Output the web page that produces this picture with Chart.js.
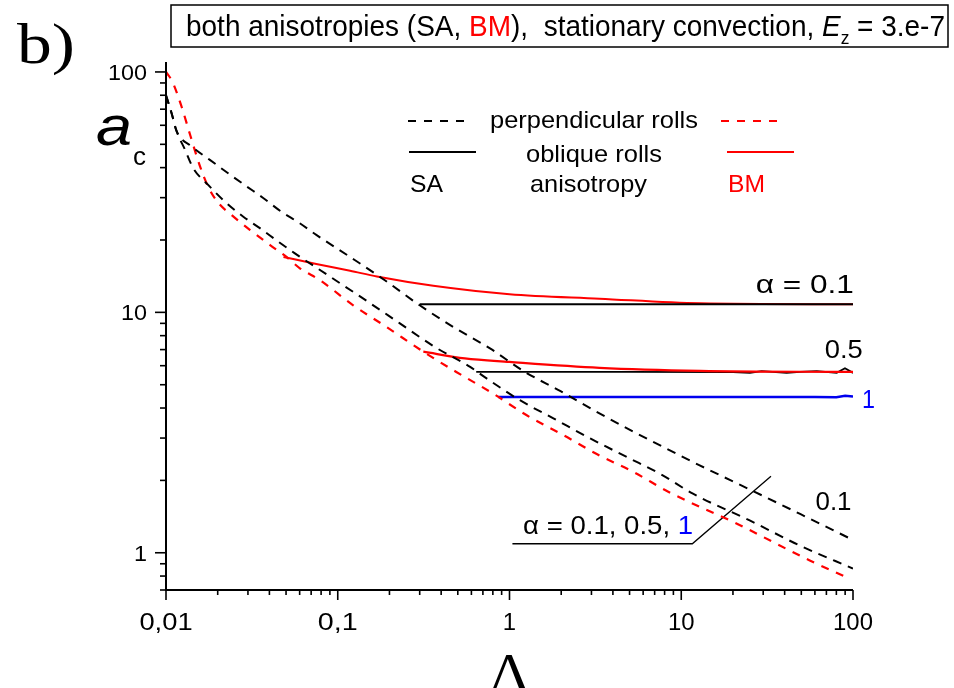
<!DOCTYPE html>
<html>
<head>
<meta charset="utf-8">
<script src="https://cdn.jsdelivr.net/npm/chart.js@4.4.0/dist/chart.umd.min.js"></script>
<style>
  html, body { margin: 0; padding: 0; background: #fff; }
</style>
</head>
<body>
<canvas id="chart" width="954" height="688"></canvas>
<script>
// ---- data (Lambda, a_c) ----
// perpendicular rolls, SA anisotropy, alpha = 0.1 (black dashed, upper)
var lamPerpSA01 = [0.01, 0.0108, 0.0115, 0.0141, 0.018, 0.0236, 0.0295, 0.0368, 0.047, 0.06, 0.075, 0.118, 0.188, 0.30, 0.47, 0.77, 1.23, 1.97, 3.17, 5.09, 8.2, 12.8, 25.6, 49.2, 100];
var acPerpSA01  = [80, 67, 57, 49, 43.1, 37.4, 33.4, 29.9, 26.2, 23.5, 21.0, 17.0, 13.6, 10.7, 8.7, 7.08, 5.65, 4.71, 3.88, 3.23, 2.71, 2.31, 1.82, 1.45, 1.13];
// perpendicular rolls, SA anisotropy, alpha = 0.5 / 1 (black dashed, lower)
var lamPerpSA05 = [0.01, 0.0108, 0.0115, 0.0129, 0.0144, 0.0176, 0.022, 0.0282, 0.0352, 0.045, 0.0563, 0.0899, 0.141, 0.23, 0.366, 0.59, 0.736, 1.15, 1.79, 2.95, 4.83, 7.8, 11.7, 25.2, 49.2, 100];
var acPerpSA05  = [80, 67, 57, 47.5, 39.8, 33.9, 28.9, 25.0, 22.4, 19.7, 17.6, 14.1, 11.4, 9.0, 7.19, 5.93, 5.31, 4.31, 3.63, 2.99, 2.5, 2.1, 1.76, 1.36, 1.07, 0.86];
// perpendicular rolls, BM anisotropy (red dashed)
var lamPerpBM = [0.01, 0.0109, 0.0123, 0.0139, 0.0158, 0.0176, 0.0202, 0.0241, 0.0309, 0.0402, 0.0503, 0.0602, 0.0789, 0.123, 0.192, 0.315, 0.49, 0.80, 1.26, 2.07, 3.2, 5.26, 8.45, 21.1, 56, 90];
var acPerpBM  = [100, 91, 72, 54, 40.4, 33.3, 28.5, 25.4, 22.0, 19.1, 17.0, 15.25, 13.6, 10.7, 8.7, 6.86, 5.65, 4.6, 3.73, 3.08, 2.58, 2.17, 1.79, 1.32, 0.929, 0.796];

// oblique rolls
var lamObSA01 = [0.30, 1, 10, 100];
var acObSA01  = [10.8, 10.8, 10.8, 10.8];
var lamObBM01 = [0.0483, 0.075, 0.118, 0.169, 0.36, 1.0, 3.34, 12.9, 100];
var acObBM01  = [17.0, 15.9, 14.9, 14.1, 12.9, 11.9, 11.4, 10.9, 10.8];
var lamObBM05 = [0.315, 0.55, 1.0, 3.34, 12.9, 100];
var acObBM05  = [6.86, 6.43, 6.22, 5.88, 5.71, 5.65];
var lamObSA05 = [0.64, 5, 20, 25.1, 29.4, 41.1, 49.1, 61.5, 80.4, 89.8, 100];
var acObSA05  = [5.65, 5.65, 5.64, 5.6, 5.7, 5.6, 5.66, 5.7, 5.6, 5.85, 5.6];
var lamOb1 = [0.86, 10, 60, 80, 90, 100];
var acOb1  = [4.45, 4.45, 4.45, 4.44, 4.5, 4.47];

// leader line of the "alpha = 0.1, 0.5, 1" note
var lamPtr = [1.04, 11.6, 33.3];
var acPtr  = [1.09, 1.09, 2.08];

// axis ticks
var xMajor = [0.01, 0.1, 1, 10, 100];
var xLabels = ['0,01', '0,1', '1', '10', '100'];
var yMajor = [1, 10, 100];
var yLabels = ['1', '10', '100'];
var yMinorLow = [0.7, 0.8, 0.9];

// curve notes: [text, colour, Lambda, a_c, align, width]
var notes = [
  ['\u03b1 = 0.1', '#000', 101, 12.0, 'right', 98],
  ['0.5', '#000', 114, 6.45, 'right', 38],
  ['0.1', '#000', 98, 1.5, 'right', 36]
];

function pts(xs, ys) {
  return xs.map(function (x, i) { return { x: x, y: ys[i] }; });
}

function line(data, color, width, dash, smooth) {
  return {
    data: data,
    borderColor: color,
    borderWidth: width,
    borderDash: dash || [],
    pointRadius: 0,
    fill: false,
    cubicInterpolationMode: smooth ? 'monotone' : 'default',
    tension: 0
  };
}

// text drawn in pieces, squeezed or stretched to a given width
function segText(ctx, segs, x, y, align, width) {
  var total = 0;
  segs.forEach(function (s) { ctx.font = s[1]; s.w = ctx.measureText(s[0]).width; total += s.w; });
  var sx = width ? width / total : 1;
  var x0 = align === 'right' ? x - total * sx : (align === 'center' ? x - total * sx / 2 : x);
  ctx.save();
  ctx.translate(x0, y);
  ctx.scale(sx, 1);
  ctx.textAlign = 'left';
  ctx.textBaseline = 'alphabetic';
  var cx = 0;
  segs.forEach(function (s) {
    ctx.font = s[1];
    ctx.fillStyle = s[2];
    ctx.fillText(s[0], cx, s[3] || 0);
    cx += s.w;
  });
  ctx.restore();
}

var SANS = '"Liberation Sans", Arial, sans-serif';
var SERIF = '"Liberation Serif", "Times New Roman", serif';

var decor = {
  id: 'decor',
  afterDraw: function (chart) {
    var ctx = chart.ctx;
    var xs = chart.scales.x, ys = chart.scales.y;
    var area = chart.chartArea;
    ctx.save();
    ctx.strokeStyle = '#000';
    ctx.fillStyle = '#000';
    ctx.setLineDash([]);

    // axes
    ctx.lineWidth = 2;
    ctx.beginPath();
    ctx.moveTo(area.left, area.top);
    ctx.lineTo(area.left, area.bottom);
    ctx.lineTo(area.right, area.bottom);
    ctx.stroke();

    // x ticks
    ctx.lineWidth = 1.6;
    for (var d = 0; d < xMajor.length; d++) {
      var px = xs.getPixelForValue(xMajor[d]);
      ctx.beginPath(); ctx.moveTo(px, area.bottom); ctx.lineTo(px, area.bottom + 10); ctx.stroke();
      if (d < xMajor.length - 1) {
        for (var m = 2; m <= 9; m++) {
          var pm = xs.getPixelForValue(xMajor[d] * m);
          ctx.beginPath(); ctx.moveTo(pm, area.bottom); ctx.lineTo(pm, area.bottom + 5); ctx.stroke();
        }
      }
      segText(ctx, [[xLabels[d], '24px ' + SANS, '#000']], px, area.bottom + 40, 'center', xLabels[d].length * 13.3);
    }

    // y ticks
    for (var k = 0; k < yMajor.length; k++) {
      var py = ys.getPixelForValue(yMajor[k]);
      ctx.beginPath(); ctx.moveTo(area.left, py); ctx.lineTo(area.left - 11, py); ctx.stroke();
      if (k < yMajor.length - 1) {
        for (var n = 2; n <= 9; n++) {
          var pn = ys.getPixelForValue(yMajor[k] * n);
          ctx.beginPath(); ctx.moveTo(area.left, pn); ctx.lineTo(area.left - 6, pn); ctx.stroke();
        }
      }
      segText(ctx, [[yLabels[k], '22px ' + SANS, '#000']], area.left - 19, py + 8, 'right', yLabels[k].length * 13);
    }
    yMinorLow.forEach(function (v) {
      var p = ys.getPixelForValue(v);
      ctx.beginPath(); ctx.moveTo(area.left, p); ctx.lineTo(area.left - 6, p); ctx.stroke();
    });

    // title box
    ctx.lineWidth = 1.5;
    ctx.strokeRect(171, 5, 777, 42);
    segText(ctx, [
      ['both anisotropies (SA, ', '29px ' + SANS, '#000'],
      ['BM', '29px ' + SANS, '#f00'],
      ['),  stationary convection, ', '29px ' + SANS, '#000'],
      ['E', 'italic 29px ' + SANS, '#000'],
      ['z', '18px ' + SANS, '#000', 8],
      [' = 3.e-7', '29px ' + SANS, '#000']
    ], 186, 36, 'left', 759);

    // panel letter and axis titles
    segText(ctx, [['b)', '58px ' + SERIF, '#000']], 17, 63, 'left', 58);
    segText(ctx, [['a', 'italic 56px ' + SANS, '#000']], 96, 145, 'left', 36);
    segText(ctx, [['c', '26px ' + SANS, '#000']], 133, 165, 'left', 13);
    segText(ctx, [['\u039b', '52px ' + SERIF, '#000']], (area.left + area.right) / 2, 690, 'center', 42);

    // legend
    ctx.lineWidth = 2;
    ctx.setLineDash([8, 8]);
    ctx.strokeStyle = '#000';
    ctx.beginPath(); ctx.moveTo(408, 121); ctx.lineTo(472, 121); ctx.stroke();
    ctx.strokeStyle = '#f00';
    ctx.beginPath(); ctx.moveTo(721, 121); ctx.lineTo(785, 121); ctx.stroke();
    ctx.setLineDash([]);
    ctx.strokeStyle = '#000';
    ctx.beginPath(); ctx.moveTo(409, 152); ctx.lineTo(476, 152); ctx.stroke();
    ctx.strokeStyle = '#f00';
    ctx.beginPath(); ctx.moveTo(727, 152); ctx.lineTo(794, 152); ctx.stroke();
    segText(ctx, [['perpendicular rolls', '24px ' + SANS, '#000']], 490, 128, 'left', 208);
    segText(ctx, [['oblique rolls', '24px ' + SANS, '#000']], 526, 162, 'left', 136);
    segText(ctx, [['SA', '24px ' + SANS, '#000']], 410, 192, 'left', 33);
    segText(ctx, [['anisotropy', '24px ' + SANS, '#000']], 530, 192, 'left', 117);
    segText(ctx, [['BM', '24px ' + SANS, '#f00']], 728, 192, 'left', 37);

    // notes at the curves
    notes.forEach(function (t) {
      segText(ctx, [[t[0], '25px ' + SANS, t[1]]], xs.getPixelForValue(t[2]), ys.getPixelForValue(t[3]), t[4], t[5]);
    });
    segText(ctx, [['1', '26px ' + SANS, '#00f']], xs.getPixelForValue(112.8), ys.getPixelForValue(3.99), 'left', 13);
    segText(ctx, [
      ['\u03b1 = 0.1, 0.5, ', '25px ' + SANS, '#000'],
      ['1', '25px ' + SANS, '#00f']
    ], xs.getPixelForValue(1.2), ys.getPixelForValue(1.2), 'left', 170);

    ctx.restore();
  }
};

var ctx = document.getElementById('chart').getContext('2d');

var myChart = new Chart(ctx, {
  type: 'line',
  data: {
    datasets: [
      line(pts(lamPerpSA01, acPerpSA01), '#000', 2, [9, 7], true),
      line(pts(lamPerpSA05, acPerpSA05), '#000', 2, [9, 7], true),
      line(pts(lamPerpBM, acPerpBM), '#f00', 2.2, [8, 8], true),
      line(pts(lamObSA01, acObSA01), '#000', 2, null, false),
      line(pts(lamObBM01, acObBM01), '#f00', 2, null, true),
      line(pts(lamObBM05, acObBM05), '#f00', 2.2, null, true),
      line(pts(lamObSA05, acObSA05), '#000', 1.8, null, false),
      line(pts(lamOb1, acOb1), '#0000ee', 2.5, null, false),
      line(pts(lamPtr, acPtr), '#000', 1.3, null, false)
    ]
  },
  options: {
    responsive: false,
    animation: false,
    devicePixelRatio: 1,
    layout: { padding: { left: 166, right: 101, top: 62, bottom: 98 } },
    plugins: { legend: { display: false }, tooltip: { enabled: false } },
    scales: {
      x: { type: 'logarithmic', min: 0.01, max: 100, display: false },
      y: { type: 'logarithmic', min: 0.7, max: 110, display: false }
    }
  },
  plugins: [decor]
});
</script>
</body>
</html>
